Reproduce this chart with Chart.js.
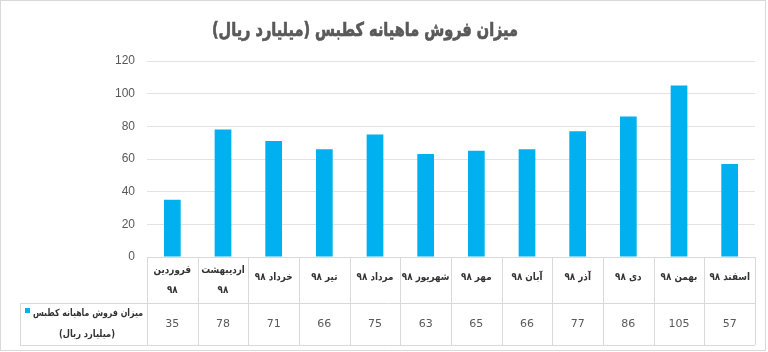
<!DOCTYPE html>
<html>
<head>
<meta charset="utf-8">
<script src="https://cdn.jsdelivr.net/npm/chart.js@4.4.1/dist/chart.umd.min.js"></script>
<style>
  html, body { margin: 0; padding: 0; background: #ffffff; }
  canvas { display: block; }
</style>
</head>
<body>
<canvas id="c" width="768" height="352"></canvas>
<script>
const chartTitle = 'میزان فروش ماهیانه کطبس (میلیارد ریال)';
const seriesNameLines = ['میزان فروش ماهیانه کطبس', '(میلیارد ریال)'];
const categories = [
  ['فروردین', '۹۸'], ['اردیبهشت', '۹۸'], 'خرداد ۹۸', 'تیر ۹۸', 'مرداد ۹۸', 'شهریور ۹۸',
  'مهر ۹۸', 'آبان ۹۸', 'آذر ۹۸', 'دی ۹۸', 'بهمن ۹۸', 'اسفند ۹۸'
];
const salesValues = [35, 78, 71, 66, 75, 63, 65, 66, 77, 86, 105, 57];
const yTickValues = [0, 20, 40, 60, 80, 100, 120];

const BAR_COLOR = '#00B0F0';
const LINE_COLOR = '#d9d9d9';
const TEXT_GRAY = '#595959';
const TEXT_DARK = '#333333';
const PERSIAN_FONT = '"DejaVu Sans", "Noto Sans", sans-serif';

// draw text compressed horizontally by factor sx
function drawCompressed(ctx, text, x, y, sx) {
  const wNat = ctx.measureText(text).width;
  ctx.fillText(text, x, y, wNat * sx);
}

const tablePlugin = {
  id: 'dataTable',
  beforeDraw(chart) {
    const ctx = chart.ctx;
    ctx.save();
    ctx.fillStyle = '#ffffff';
    ctx.fillRect(0, 0, chart.width, chart.height);
    ctx.restore();
  },
  afterDraw(chart) {
    const ctx = chart.ctx;
    const xs = chart.scales.x;
    const area = chart.chartArea;
    const n = categories.length;
    const w = (area.right - area.left) / n;
    const top = area.bottom;
    const mid = top + 46;
    const bottom = top + 88;
    const tableLeft = 20;
    ctx.save();
    // outer frame
    ctx.strokeStyle = LINE_COLOR;
    ctx.lineWidth = 1;
    ctx.strokeRect(0.5, 0.5, 765, 350);
    // table lines
    ctx.beginPath();
    ctx.moveTo(area.left, top + 0.5); ctx.lineTo(area.right, top + 0.5);
    ctx.moveTo(tableLeft, mid + 0.5); ctx.lineTo(area.right, mid + 0.5);
    ctx.moveTo(tableLeft, bottom + 0.5); ctx.lineTo(area.right, bottom + 0.5);
    for (let k = 0; k <= n; k++) {
      const x = Math.round(area.left + k * w) + 0.5;
      ctx.moveTo(x, top); ctx.lineTo(x, bottom);
    }
    ctx.moveTo(tableLeft + 0.5, mid); ctx.lineTo(tableLeft + 0.5, bottom);
    ctx.stroke();

    ctx.direction = 'rtl';
    ctx.textBaseline = 'middle';
    ctx.textAlign = 'center';
    // header labels
    ctx.fillStyle = TEXT_DARK;
    ctx.font = 'bold 10.5px ' + PERSIAN_FONT;
    categories.forEach((lab, i) => {
      const cx = xs.getPixelForValue(i);
      if (Array.isArray(lab)) {
        drawCompressed(ctx, lab[0], cx, top + 13, 0.84);
        drawCompressed(ctx, lab[1], cx, top + 33, 0.84);
      } else {
        drawCompressed(ctx, lab, cx, top + 20, 0.84);
      }
    });
    // values
    ctx.fillStyle = TEXT_GRAY;
    ctx.font = '11px "DejaVu Sans", sans-serif';
    salesValues.forEach((v, i) => {
      ctx.fillText(String(v), xs.getPixelForValue(i), mid + 21);
    });
    // legend cell
    ctx.fillStyle = BAR_COLOR;
    ctx.fillRect(25, mid + 5, 5, 5);
    ctx.fillStyle = TEXT_DARK;
    ctx.font = 'bold 10px ' + PERSIAN_FONT;
    ctx.textAlign = 'right';
    ctx.fillText(seriesNameLines[0], 143, mid + 10, 110);
    ctx.textAlign = 'center';
    ctx.fillText(seriesNameLines[1], 87, mid + 31, 56);
    // title
    ctx.fillStyle = TEXT_GRAY;
    ctx.strokeStyle = TEXT_GRAY;
    ctx.lineWidth = 0.7;
    ctx.font = 'bold 19px ' + PERSIAN_FONT;
    ctx.fillText(chartTitle, 365, 31, 306);
    ctx.strokeText(chartTitle, 365, 31, 306);
    ctx.restore();
  }
};

new Chart(document.getElementById('c'), {
  type: 'bar',
  data: {
    labels: categories,
    datasets: [{
      label: seriesNameLines.join(' '),
      data: salesValues,
      backgroundColor: BAR_COLOR,
      borderWidth: 0,
      barPercentage: 1,
      categoryPercentage: 0.33
    }]
  },
  options: {
    responsive: false,
    animation: false,
    devicePixelRatio: 1,
    layout: { padding: { left: 20, right: 13, top: 61, bottom: 95 } },
    plugins: {
      legend: { display: false },
      title: { display: false },
      tooltip: { enabled: false }
    },
    scales: {
      x: { display: false },
      y: {
        min: 0,
        max: 120,
        afterBuildTicks(scale) { scale.ticks = yTickValues.map(v => ({ value: v })); },
        afterFit(scale) { scale.width = 127; },
        border: { display: false },
        grid: { color: '#e3e3e3', lineWidth: 1, drawTicks: false },
        ticks: {
          color: TEXT_GRAY,
          padding: 12,
          font: { family: '"Liberation Sans", sans-serif', size: 12 }
        }
      }
    }
  },
  plugins: [tablePlugin]
});
</script>
</body>
</html>
